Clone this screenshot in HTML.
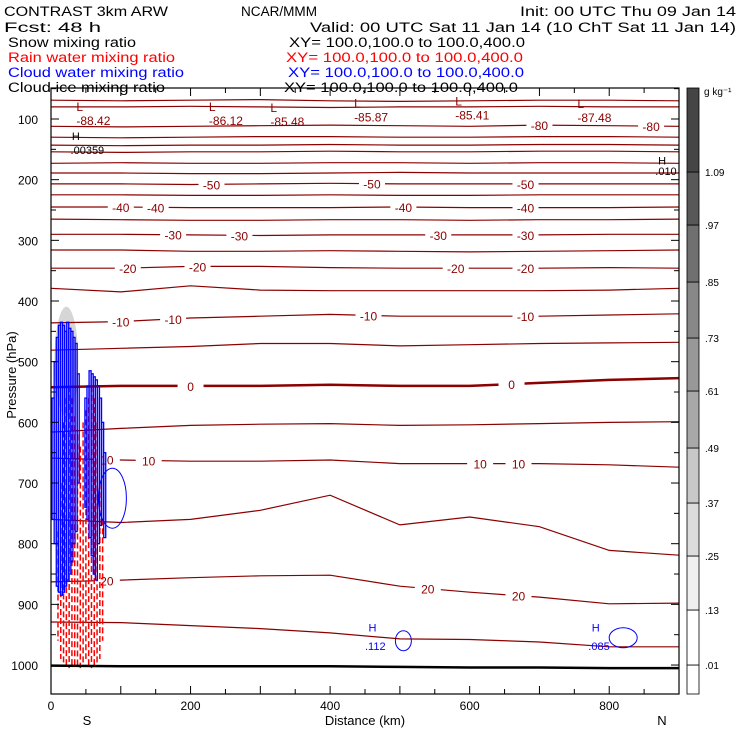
<!DOCTYPE html>
<html><head><meta charset="utf-8">
<style>
body{margin:0;background:#fff;}
svg{display:block;font-family:"Liberation Sans",sans-serif;}
</style></head>
<body>
<svg id="chart" width="740" height="740" viewBox="0 0 740 740" xmlns="http://www.w3.org/2000/svg">
<rect width="740" height="740" fill="#fff"/>
<g id="hdr" font-size="13.5">
<text x="4" y="16" textLength="164" lengthAdjust="spacingAndGlyphs">CONTRAST  3km ARW</text>
<text x="241" y="16" textLength="76" lengthAdjust="spacingAndGlyphs">NCAR/MMM</text>
<text x="520" y="16" textLength="216" lengthAdjust="spacingAndGlyphs">Init: 00 UTC Thu 09 Jan 14</text>
<text x="4" y="32" textLength="97" lengthAdjust="spacingAndGlyphs">Fcst:    48 h</text>
<text x="310" y="32" textLength="426" lengthAdjust="spacingAndGlyphs">Valid: 00 UTC Sat 11 Jan 14 (10 ChT Sat 11 Jan 14)</text>
<text x="8" y="47" textLength="128" lengthAdjust="spacingAndGlyphs">Snow mixing ratio</text>
<text x="289" y="47" textLength="236" lengthAdjust="spacingAndGlyphs">XY= 100.0,100.0 to 100.0,400.0</text>
<text x="8" y="62" fill="#f00" textLength="167" lengthAdjust="spacingAndGlyphs">Rain water mixing ratio</text>
<text x="286" y="62" fill="#f00" textLength="237" lengthAdjust="spacingAndGlyphs">XY= 100.0,100.0 to 100.0,400.0</text>
<text x="8" y="77" fill="#00f" textLength="176" lengthAdjust="spacingAndGlyphs">Cloud water mixing ratio</text>
<text x="288" y="77" fill="#00f" textLength="236" lengthAdjust="spacingAndGlyphs">XY= 100.0,100.0 to 100.0,400.0</text>
<text x="8" y="92" textLength="157" lengthAdjust="spacingAndGlyphs">Cloud ice mixing ratio</text>
<text x="284" y="92" textLength="234" lengthAdjust="spacingAndGlyphs">XY= 100.0,100.0 to 100.0,400.0</text>
</g>
<g id="plot"></g>
<g id="cbar"></g>
</svg>
<script>
// ---- data ----
const xNodes = [0,100,200,300,400,500,600,700,800,900];
const isoLevels = [-85,-85,-80,-75,-70,-65,-60,-55,-50,-45,-40,-35,-30,-25,-20,-15,-10,-5,0,5,10,15,20,25];
const isoPressures = [
 [69,70,69,68,70,71,70,69,69,70],
 [80,80,79,80,81,80,80,79,80,80],
 [112,113,112,111,110,111,112,110,111,112],
 [130,131,130,129,129,130,130,129,129,130],
 [143,144,143,143,142,143,143,142,142,143],
 [154,155,154,154,153,154,154,153,153,154],
 [173,172,173,173,172,172,173,172,172,173],
 [189,189,190,190,189,188,189,189,189,189],
 [207,207,208,207,206,207,207,207,207,207],
 [225,225,226,226,225,226,226,225,225,225],
 [245,245,246,246,246,245,246,246,246,245],
 [265,266,267,267,266,266,267,266,266,265],
 [290,290,291,292,291,291,291,291,290,290],
 [316,316,318,318,317,318,319,318,317,316],
 [346,346,343,343,345,346,346,346,345,346],
 [379,385,375,382,383,383,383,383,382,379],
 [436,434,428,425,422,425,425,425,423,421],
 [481,478,475,470,470,474,472,470,469,468],
 [542,540,540,540,538,540,540,535,530,527],
 [616,610,605,603,602,605,604,602,600,599],
 [659,662,664,664,662,668,668,668,670,674],
 [760,765,760,745,720,769,756,772,811,819],
 [863,860,856,853,852,870,880,888,899,898],
 [929,930,935,940,947,957,958,962,970,970]
];
const isoLabelKm = [[],[],[700,860],[],[],[],[],[],[230,460,680],[],[100,150,505,680],[],[175,270,555,680],[],[110,210,580,680],[],[100,175,455,680],[],[200,660],[],[80,140,615,670],[],[80,540,670],[]];
const surfaceP = [1001,1002,1002,1002,1002,1003,1004,1004,1005,1005];
const minLabels = ['-88.42','-86.12','-85.48','-85.87','-85.41','-87.48'];
const minKm = [22,212,300,420,565,740];
const minP = [100,100,102,94,91,95];
const yTicks = [100,200,300,400,500,600,700,800,900,1000];
const xTicks = [0,200,400,600,800];
const cbarLevels = ['.01','.13','.25','.37','.49','.61','.73','.85','.97','1.09'];
const cbarGreys = ['#fff','#fff','#f0f0f0','#dcdcdc','#c8c8c8','#a8a8a8','#989898','#888','#707070','#585858','#454545'];
// cloud water columns (km, top hPa, bottom hPa)
const cwKm  = [3,6,9,12,15,18,21,24,27,30,33,36,39,50,53,56,59,62,65,68,71,74,77];
const cwTop = [560,500,460,440,435,440,450,435,445,450,460,470,520,560,540,515,520,525,530,540,560,600,650];
const cwBot = [760,800,870,880,885,880,870,860,850,830,800,780,700,740,760,790,820,850,860,800,770,760,790];
// rain columns
const rnKm  = [10,14,18,22,26,30,34,38,42,46,50,54,58,62,66,70,74];
const rnTop = [780,700,600,560,540,560,590,620,640,600,580,560,540,560,600,700,760];
const rnBot = [960,990,1000,1005,1005,1000,1000,1005,1005,1000,990,1000,1005,1005,1000,990,960];
// ---- axes ----
const X0=51,X1=679,Y0=88,Y1=694;
const xs = km => X0 + km*(X1-X0)/900;
const ys = p => 119 + (p-100)*0.6067;
const NS='http://www.w3.org/2000/svg';
const plot=document.getElementById('plot');
function mk(tag,attrs,parent){const e=document.createElementNS(NS,tag);for(const k in attrs)e.setAttribute(k,attrs[k]);(parent||plot).appendChild(e);return e;}

const sm=mk('ellipse',{cx:xs(22),cy:ys(500),rx:12,ry:55,fill:'#bbb',opacity:0.6});



isoLevels.forEach((lv,i)=>{
  const pts=xNodes.map((k,j)=>xs(k)+','+ys(isoPressures[i][j]).toFixed(1)).join(' ');
  const l=mk('polyline',{points:pts,fill:'none',stroke:'#8b0000','stroke-width':lv===0?2.5:1.2});
  
  
  isoLabelKm[i].forEach(k=>{
    const j=Math.min(8,Math.floor(k/100));const f=(k-xNodes[j])/100;
    const p=isoPressures[i][j]*(1-f)+isoPressures[i][j+1]*f;
    mk('rect',{x:xs(k)-13,y:ys(p)-6,width:26,height:12,fill:'#fff'});
    const t=mk('text',{x:xs(k),y:ys(p)+5,'text-anchor':'middle','font-size':12,fill:'#8b0000'});
    t.textContent=String(lv);
    
    
  });
});
minLabels.forEach((s,i)=>{
  const t1=mk('text',{x:xs(minKm[i])+10,y:ys(minP[i])-8,'font-size':12,fill:'#8b0000'});t1.textContent='L';
  
  
  const t2=mk('text',{x:xs(minKm[i])+10,y:ys(minP[i])+6,'font-size':12,fill:'#8b0000'});t2.textContent=s;
  
  
});
rnKm.forEach((k,i)=>{
  const r=mk('line',{x1:xs(k),y1:ys(rnTop[i]),x2:xs(k),y2:ys(rnBot[i]),stroke:'#f00','stroke-width':1.5,'stroke-dasharray':'6,3'});
  
  
});
cwKm.forEach((k,i)=>{
  const r=mk('rect',{x:xs(k)-1,y:ys(cwTop[i]),width:2,height:ys(cwBot[i])-ys(cwTop[i]),fill:'none',stroke:'#00f','stroke-width':1.3});
  
  
});
[[xs(88),ys(725),14,30],[xs(505),ys(960),8,10],[xs(820),ys(955),14,10]].forEach(b=>{
  const e=mk('ellipse',{cx:b[0],cy:b[1],rx:b[2],ry:b[3],fill:'none',stroke:'#00f','stroke-width':1});
  
  
});
[['H',xs(455),ys(945)],['.112',xs(450),ys(975)],['H',xs(775),ys(945)],['.085',xs(770),ys(975)]].forEach(a=>{
  const t=mk('text',{x:a[1],y:a[2],'font-size':11,fill:'#00f'});t.textContent=a[0];
  
  
});
[['H',xs(30),ys(135)],['.00359',xs(28),ys(158)],['H',xs(870),ys(175)],['.010',xs(866),ys(192)]].forEach(a=>{
  const t=mk('text',{x:a[1],y:a[2],'font-size':11,fill:'#000'});t.textContent=a[0];
  
  
});
const sp=mk('polyline',{points:xNodes.map((k,j)=>xs(k)+','+ys(surfaceP[j]).toFixed(1)).join(' '),fill:'none',stroke:'#000','stroke-width':2.5});


const fr=mk('rect',{x:X0,y:Y0,width:X1-X0,height:Y1-Y0,fill:'none',stroke:'#000','stroke-width':1.2});


for(let p=50;p<=1050;p+=50){
  const y=ys(p);if(y<Y0||y>Y1)continue;const L=(p%100===0)?8:5;
  mk('line',{x1:X0,y1:y,x2:X0+L,y2:y,stroke:'#000'});
  mk('line',{x1:X1,y1:y,x2:X1-L,y2:y,stroke:'#000'});
}
yTicks.forEach(p=>{const t=mk('text',{x:38,y:ys(p)+5,'text-anchor':'end','font-size':12});t.textContent=p;
  
  });
for(let k=0;k<=900;k+=50){const L=(k%100===0)?8:5;
  mk('line',{x1:xs(k),y1:Y1,x2:xs(k),y2:Y1-L,stroke:'#000'});
  mk('line',{x1:xs(k),y1:Y0,x2:xs(k),y2:Y0+L,stroke:'#000'});}
xTicks.forEach(k=>{const t=mk('text',{x:xs(k),y:710,'text-anchor':'middle','font-size':12});t.textContent=k;
  
  });
let t=mk('text',{x:365,y:725,'text-anchor':'middle','font-size':13});t.textContent='Distance (km)';


t=mk('text',{x:87,y:725,'text-anchor':'middle','font-size':13});t.textContent='S';


t=mk('text',{x:662,y:725,'text-anchor':'middle','font-size':13});t.textContent='N';


t=mk('text',{x:0,y:0,'text-anchor':'middle','font-size':13,transform:'translate(16,375) rotate(-90)'});t.textContent='Pressure (hPa)';


const cb=document.getElementById('cbar');
const cbY=[694,665,610,556,503,448,391,338,282,225,172,88];
cbarGreys.forEach((c,i)=>{
  const r=mk('rect',{x:687,y:cbY[i+1],width:12,height:cbY[i]-cbY[i+1],fill:c,stroke:'#000','stroke-width':0.8},cb);
  
  
});
cbarLevels.forEach((s,i)=>{const tt=mk('text',{x:705,y:cbY[i+1]+4,'font-size':10},cb);tt.textContent=s;
  
  });
t=mk('text',{x:704,y:95,'font-size':10},cb);t.textContent='g kg⁻¹';


</script>
</body></html>
